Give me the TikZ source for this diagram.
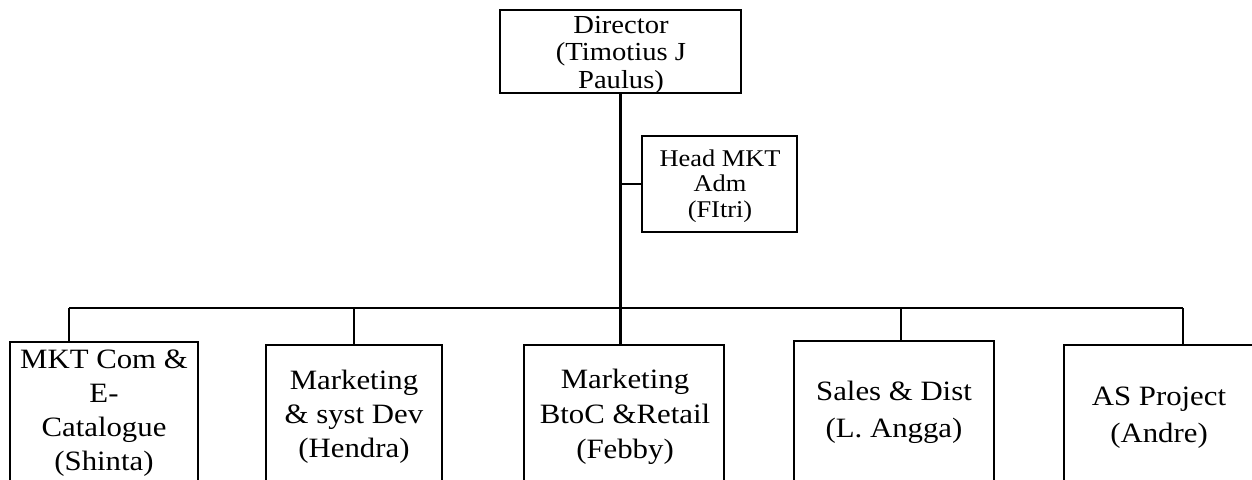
\documentclass[tikz,border=0pt]{standalone}
\usepackage{fontspec}
\setmainfont{Liberation Serif}[FakeStretch=1.1]
\tikzset{
  box/.style={draw=black, line width=2.4pt, rectangle, inner sep=0pt, outer sep=0pt, anchor=north west},
  link/.style={draw=black, line width=2.4pt},
  txt/.style={align=center, inner sep=0pt, text=black},
}
\begin{document}
\begin{tikzpicture}[x=1pt,y=-1pt]
\useasboundingbox (0,0) rectangle (1252,479);
\clip (0,0) rectangle (1252,479);
\fill[white] (0,0) rectangle (1252,479);
% boxes
\node[box, minimum width=241pt, minimum height=83pt] (dir) at (500,10) {};
\node[box, minimum width=155pt, minimum height=96pt] (head) at (642,136) {};
\node[box, minimum width=188pt, minimum height=160pt] (b1) at (10,342) {};
\node[box, minimum width=176pt, minimum height=160pt] (b2) at (266,345) {};
\node[box, minimum width=200pt, minimum height=160pt] (b3) at (524,345) {};
\node[box, minimum width=200pt, minimum height=160pt] (b4) at (794,341) {};
\node[box, minimum width=190pt, minimum height=160pt] (b5) at (1064,345) {};
% texts
\node[txt, font=\fontsize{26}{27.5}\selectfont] (dirt) at (621,55) {Director\\(Timotius J\\Paulus)};
\node[txt, font=\fontsize{24}{25.5}\selectfont] (headt) at (720,186) {Head MKT\\Adm\\(FItri)};
\node[txt, font=\fontsize{28}{34}\selectfont] (b1t) at (104,413) {MKT Com \&\\E-\\Catalogue\\(Shinta)};
\node[txt, font=\fontsize{28}{34}\selectfont] (b2t) at (354,417) {Marketing\\\& syst Dev\\(Hendra)};
\node[txt, font=\fontsize{28}{35}\selectfont] (b3t) at (625,417) {Marketing\\BtoC \&Retail\\(Febby)};
\node[txt, font=\fontsize{28}{37}\selectfont] (b4t) at (894,412.5) {Sales \& Dist\\(L. Angga)};
\node[txt, font=\fontsize{28}{37}\selectfont] (b5t) at (1159,417.5) {AS Project\\(Andre)};
% bus
\coordinate (busL) at (69,308);
\coordinate (busR) at (1183,308);
\draw[link] (dir.south) -- (dir.south |- b3.north);
\draw[link] (dir.south |- head.west) -- (head.west);
\draw[link] (busL) -- (busR);
\draw[link] (busL) -- (busL |- b1.north);
\draw[link] (b2.north |- busL) -- (b2.north);
\draw[link] ([xshift=7pt]b4.north |- busL) -- ([xshift=7pt]b4.north);
\draw[link] (busR) -- (busR |- b5.north);
\end{tikzpicture}
\end{document}
